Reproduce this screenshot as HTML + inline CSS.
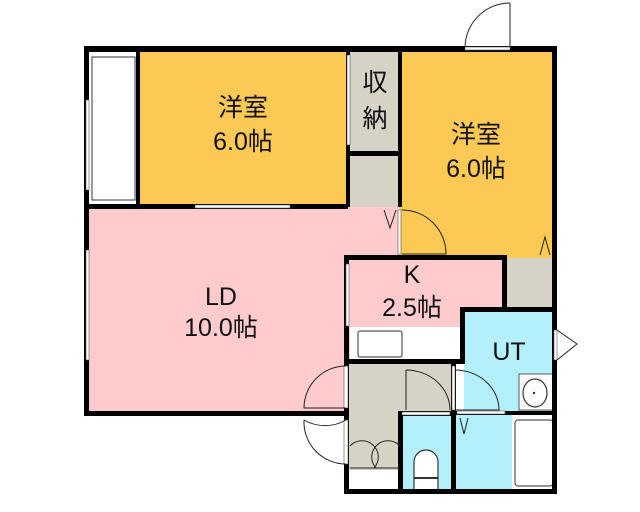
<!DOCTYPE html>
<html><head><meta charset="utf-8"><style>
html,body{margin:0;padding:0;background:#fff;}
svg{display:block}
text{font-family:"Liberation Sans","Noto Sans CJK JP",sans-serif;fill:#111;}
</style></head><body>
<svg width="640" height="512" viewBox="0 0 640 512" xmlns="http://www.w3.org/2000/svg">
<rect x="86" y="50" width="54" height="157" fill="#fff"/>
<rect x="92" y="57" width="43" height="143" fill="#fff" stroke="#333" stroke-width="1"/>
<rect x="140" y="50" width="208" height="156" fill="#fdc955"/>
<rect x="348" y="50" width="52" height="104" fill="#d6d3c6"/>
<rect x="348" y="154" width="52" height="53" fill="#d6d3c6"/>
<rect x="400" y="50" width="155" height="208" fill="#fdc955"/>
<rect x="86" y="207" width="314" height="207" fill="#ffcbcc"/>
<rect x="346" y="258" width="158" height="52" fill="#ffcbcc"/>
<rect x="346" y="310" width="118" height="52" fill="#ffcbcc"/>
<rect x="350" y="327" width="112" height="32" fill="#fff"/>
<rect x="358" y="331" width="44" height="26" fill="#fff" stroke="#555" stroke-width="1.2" rx="2"/>
<rect x="504" y="258" width="51" height="52" fill="#d6d3c6"/>
<rect x="464" y="310" width="91" height="104" fill="#b3f0fb"/>
<rect x="348" y="362" width="104" height="52" fill="#d6d3c6"/>
<rect x="348" y="414" width="52" height="56" fill="#d6d3c6"/>
<rect x="350" y="470" width="50" height="20" fill="#fff"/>
<rect x="400" y="414" width="54" height="78" fill="#b3f0fb"/>
<rect x="454" y="414" width="101" height="78" fill="#b3f0fb"/>
<rect x="512" y="414" width="43" height="78" fill="#fff"/>
<rect x="515" y="420" width="38" height="66" fill="#fff" stroke="#555" stroke-width="1.2" rx="3"/>
<rect x="519" y="374" width="34" height="36" fill="#fff" stroke="#555" stroke-width="1"/>
<ellipse cx="535" cy="393" rx="12" ry="14" fill="#fff" stroke="#333" stroke-width="1.2"/>
<circle cx="534" cy="393" r="1.2" fill="#333"/>
<path d="M414 490 V462 a12 12 0 0 1 24 0 V490" fill="#fff" stroke="#333" stroke-width="1.2"/>
<line x1="414" y1="478" x2="438" y2="478" stroke="#333" stroke-width="2"/>
<g fill="#000">
<rect x="84" y="46" width="473" height="6"/>
<rect x="84" y="46" width="5" height="370"/>
<rect x="84" y="204" width="264" height="5"/>
<rect x="136" y="46" width="4" height="161"/>
<rect x="346" y="46" width="4" height="161"/>
<rect x="398" y="46" width="4" height="161"/>
<rect x="346" y="151" width="56" height="5"/>
<rect x="552" y="46" width="5" height="448"/>
<rect x="344" y="255" width="163" height="5"/>
<rect x="344" y="255" width="5" height="239"/>
<rect x="502" y="255" width="5" height="57"/>
<rect x="461" y="307" width="96" height="5"/>
<rect x="460" y="307" width="5" height="57"/>
<rect x="346" y="359" width="119" height="5"/>
<rect x="84" y="411" width="264" height="5"/>
<rect x="398" y="411" width="58" height="5"/>
<rect x="455" y="411" width="102" height="4"/>
<rect x="398" y="411" width="5" height="83"/>
<rect x="451" y="362" width="5" height="132"/>
<rect x="344" y="489" width="213" height="5"/>
</g>
<rect x="86" y="100" width="3" height="90" fill="#fff" stroke="#555" stroke-width=".6"/>
<rect x="86" y="250" width="3" height="110" fill="#fff" stroke="#555" stroke-width=".6"/>
<rect x="195" y="205" width="95" height="3" fill="#fff" stroke="#555" stroke-width=".6"/>
<rect x="347" y="55" width="3" height="90" fill="#fff" stroke="#555" stroke-width=".6"/>
<rect x="465" y="47" width="45" height="3" fill="#fff" stroke="#555" stroke-width=".6"/>
<rect x="398" y="210" width="3" height="44" fill="#fff" stroke="#555" stroke-width=".6"/>
<rect x="346" y="264" width="3" height="62" fill="#fff" stroke="#555" stroke-width=".6"/>
<rect x="554" y="330" width="3" height="30" fill="#fff" stroke="#555" stroke-width=".6"/>
<rect x="344" y="366" width="4" height="42" fill="#fff" stroke="#555" stroke-width=".6"/>
<rect x="344" y="420" width="4" height="44" fill="#fff" stroke="#555" stroke-width=".6"/>
<rect x="452" y="366" width="3" height="44" fill="#fff" stroke="#555" stroke-width=".6"/>
<rect x="402" y="412" width="48" height="3" fill="#fff" stroke="#555" stroke-width=".6"/>
<rect x="457" y="411" width="48" height="3" fill="#fff" stroke="#555" stroke-width=".6"/>
<g fill="none" stroke="#222" stroke-width="1">
<path d="M510 3 V47 M510 3 a45 45 0 0 0 -45 44"/>
<path d="M402 210 a44 44 0 0 1 44 44 H402"/>
<path d="M384 210 l6 18 l6 -18"/>
<path d="M540 255 l5 -18 l5 18"/>
<path d="M557 330 l20 14 l-20 16"/>
<path d="M346 366 a42 42 0 0 0 -42 42 H346"/>
<path d="M346 420 a42 42 0 0 1 -42 0 M304 420 a42 42 0 0 0 42 44"/>
<path d="M406 370 V410 M406 370 a44 40 0 0 1 44 40"/>
<path d="M455 370 a44 40 0 0 1 44 40 H455"/>
<path d="M460 418 l4 16 l4 -16"/>
<path d="M350 446 a16 16 0 0 1 24 22 M400 446 a16 16 0 0 0 -24 22"/>
<line x1="350" y1="468" x2="400" y2="468"/>
</g>
<text x="243" y="116" font-size="25" text-anchor="middle">洋室</text>
<text x="243" y="150" font-size="25" text-anchor="middle">6.0帖</text>
<text x="375" y="91" font-size="25" text-anchor="middle">収</text>
<text x="375" y="127" font-size="25" text-anchor="middle">納</text>
<text x="476" y="143" font-size="25" text-anchor="middle">洋室</text>
<text x="476" y="177" font-size="25" text-anchor="middle">6.0帖</text>
<text x="221" y="305" font-size="25" text-anchor="middle">LD</text>
<text x="221" y="336" font-size="25" text-anchor="middle">10.0帖</text>
<text x="412" y="283" font-size="25" text-anchor="middle">K</text>
<text x="412" y="316" font-size="25" text-anchor="middle">2.5帖</text>
<text x="509" y="360" font-size="25" text-anchor="middle">UT</text>
</svg>
</body></html>
